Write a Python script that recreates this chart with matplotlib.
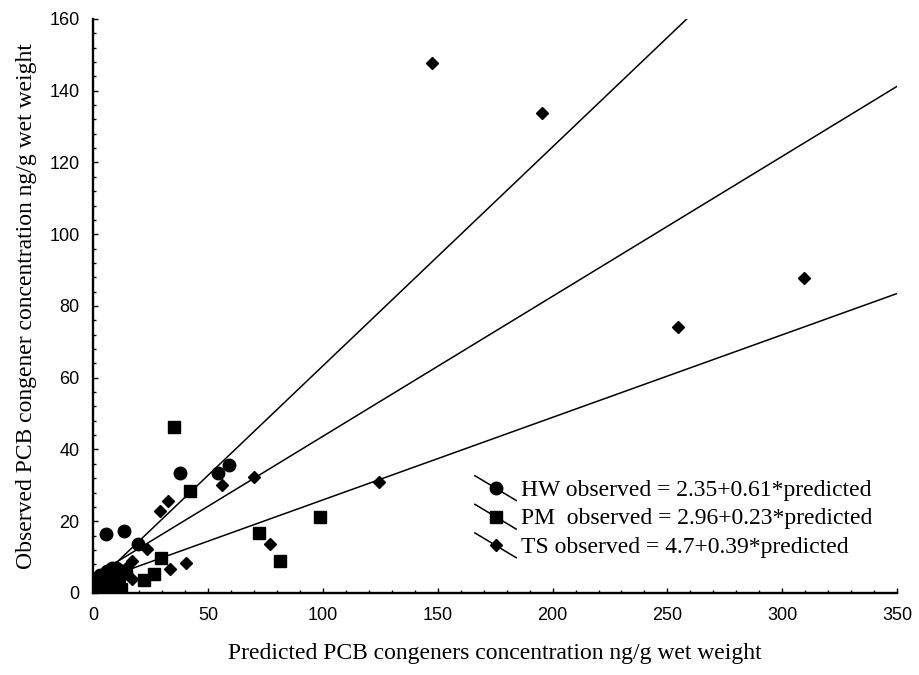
import numpy as np
import matplotlib
matplotlib.use("Agg")
from matplotlib import pyplot as plt
from matplotlib.lines import Line2D
from matplotlib.legend_handler import HandlerBase


# HW (circles)
hw_x = [0.5, 1.5, 2.5, 3, 4, 5, 6, 7, 8, 10, 12, 5.3, 13.3, 19.5, 37.7, 54.1, 59.2]
hw_y = [1, 3, 0.5, 5, 2, 4, 6, 3, 6.9, 7, 6, 16.4, 17.4, 13.6, 33.4, 33.4, 35.7]

# PM (squares)
pm_x = [0.5, 1, 2, 3, 4, 5, 6, 8, 10, 12, 13, 11, 14, 22.0, 26.3, 29.4, 35.1, 42.0, 72.2, 81.2, 98.6]
pm_y = [0.5, 3, 1, 4, 0.5, 2, 1, 1, 0.8, 1, 5.5, 5, 6, 3.6, 5.2, 9.7, 46.2, 28.5, 16.8, 8.9, 21.3]

# TS (diamonds)
ts_x = [1, 2, 3, 5, 7, 9, 11, 14, 16.6, 17, 23.4, 29.0, 32.3, 33.3, 40.1, 55.8, 69.9, 76.9,
        124.5, 147.4, 195.5, 254.5, 309.4]
ts_y = [2, 5, 3, 1, 4, 5, 3, 7, 3.8, 9, 12.3, 22.9, 25.7, 6.6, 8.4, 30.1, 32.2, 13.7,
        31.0, 147.6, 133.7, 74.1, 87.9]

# regression lines: intercept, slope
hw_fit = (2.35, 0.61)
pm_fit = (2.96, 0.23)
ts_fit = (4.7, 0.39)

labels = ["HW observed = 2.35+0.61*predicted",
          "PM  observed = 2.96+0.23*predicted",
          "TS observed = 4.7+0.39*predicted"]

x_ticks = [0, 50, 100, 150, 200, 250, 300, 350]
y_ticks = [0, 20, 40, 60, 80, 100, 120, 140, 160]


class SlantHandler(HandlerBase):
    # legend key: a line going down to the right with the marker in the middle
    def create_artists(self, legend, orig, xdescent, ydescent, width, height, fontsize, trans):
        x0, x1 = -xdescent, -xdescent + width
        y0, y1 = -ydescent + height * 1.2, -ydescent - height * 0.3
        ln = Line2D([x0, x1], [y0, y1], color='black', lw=1.1)
        mk = Line2D([(x0 + x1) / 2], [(y0 + y1) / 2], marker=orig.get_marker(),
                    markersize=orig.get_markersize(), color='black', linestyle='none')
        ln.set_transform(trans)
        mk.set_transform(trans)
        return [ln, mk]


fig = plt.figure(figsize=(9.19, 6.75), dpi=100)
ax = fig.add_axes([0.1017, 0.1215, 0.8743, 0.8504])

xs = np.array([0, 350])
h1, = ax.plot(hw_x, hw_y, 'o', color='black', markersize=9, label=labels[0])
h2, = ax.plot(pm_x, pm_y, 's', color='black', markersize=9, label=labels[1])
h3, = ax.plot(ts_x, ts_y, 'D', color='black', markersize=6.3, label=labels[2])
ax.plot(xs, hw_fit[0] + hw_fit[1] * xs, color='black', lw=1.1)
ax.plot(xs, pm_fit[0] + pm_fit[1] * xs, color='black', lw=1.1)
ax.plot(xs, ts_fit[0] + ts_fit[1] * xs, color='black', lw=1.1)

ax.set_xlim(0, 350)
ax.set_ylim(0, 160)
ax.set_xticks(x_ticks)
ax.set_yticks(y_ticks)
ax.set_xticks(np.arange(0, 351, 10), minor=True)
ax.set_yticks(np.arange(0, 161, 4), minor=True)
ax.tick_params(which='both', direction='in', width=1, labelsize=13, labelfontfamily='Liberation Sans')
ax.tick_params(which='major', length=3.5, pad=10)
ax.tick_params(which='minor', length=2)

for s in ['top', 'right']:
    ax.spines[s].set_visible(False)
for s in ['left', 'bottom']:
    ax.spines[s].set_linewidth(1.7)

ax.set_xlabel("Predicted PCB congeners concentration ng/g wet weight",
              family='Liberation Serif', fontsize=17, labelpad=14)
ax.set_ylabel("Observed PCB congener concentration ng/g wet weight",
              family='Liberation Serif', fontsize=17, labelpad=9)

ax.legend(handles=[h1, h2, h3], handler_map={Line2D: SlantHandler()},
          loc='center left', bbox_to_anchor=(0.46, 0.13), frameon=False,
          prop={'family': 'Liberation Serif', 'size': 17},
          handlelength=1.75, handletextpad=0.2, labelspacing=0.3, borderpad=0)

fig.savefig('out.png', dpi=100)
